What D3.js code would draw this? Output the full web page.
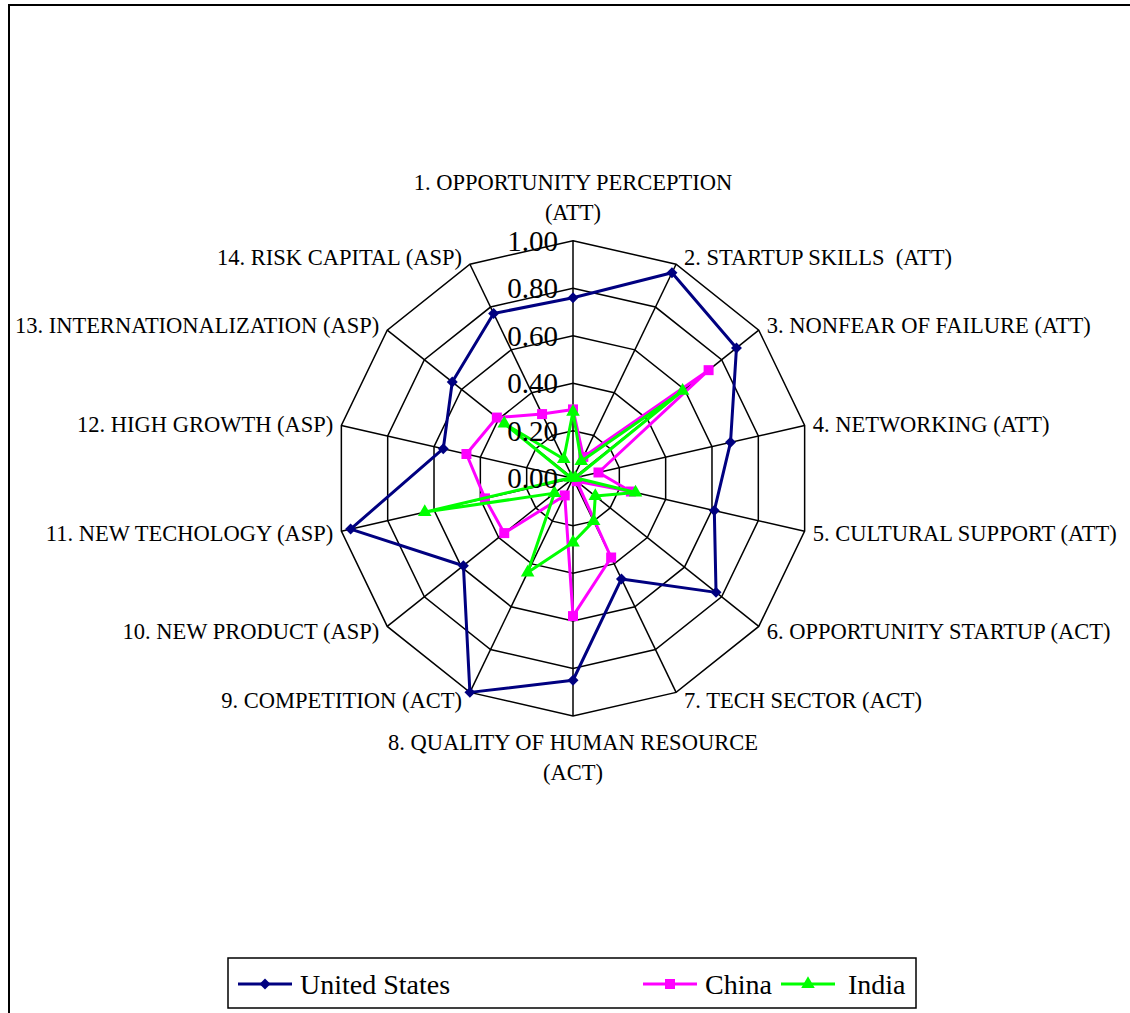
<!DOCTYPE html>
<html>
<head>
<meta charset="utf-8">
<script src="https://cdn.jsdelivr.net/npm/d3@7"></script>
<style>
  html, body { margin: 0; padding: 0; background: #fff; }
  svg text { white-space: pre; }
</style>
</head>
<body>
<svg id="chart" width="1130" height="1013"></svg>
<script>
/* radar chart: entrepreneurship indicators */

const axisLabels = [
	["1. OPPORTUNITY PERCEPTION", "(ATT)"],
	["2. STARTUP SKILLS  (ATT)"],
	["3. NONFEAR OF FAILURE (ATT)"],
	["4. NETWORKING (ATT)"],
	["5. CULTURAL SUPPORT (ATT)"],
	["6. OPPORTUNITY STARTUP (ACT)"],
	["7. TECH SECTOR (ACT)"],
	["8. QUALITY OF HUMAN RESOURCE", "(ACT)"],
	["9. COMPETITION (ACT)"],
	["10. NEW PRODUCT (ASP)"],
	["11. NEW TECHOLOGY (ASP)"],
	["12. HIGH GROWTH (ASP)"],
	["13. INTERNATIONALIZATION (ASP)"],
	["14. RISK CAPITAL (ASP)"]
];
const seriesNames = ["United States", "China", "India"];
const unitedStates = [0.76, 0.96, 0.88, 0.68, 0.61, 0.77, 0.47, 0.85, 1.00, 0.59, 0.96, 0.56, 0.65, 0.77];
const china = [0.29, 0.10, 0.73, 0.11, 0.25, 0.02, 0.37, 0.58, 0.08, 0.37, 0.38, 0.46, 0.41, 0.30];
const india = [0.28, 0.08, 0.59, 0.01, 0.27, 0.12, 0.20, 0.27, 0.44, 0.10, 0.64, 0.01, 0.37, 0.09];
const ticks = [0, 0.2, 0.4, 0.6, 0.8, 1.0];

const font = "'Liberation Serif', 'Times New Roman', Times, serif";
const colors = ["#000080", "#ff00ff", "#00ff00"];
const symbols = [d3.symbolSquare, d3.symbolSquare, d3.symbolTriangle];
const symbolSizes = [60, 100, 80];

const svg = d3.select("#chart");
const cx = 573, cy = 478.3;
const r = d3.scaleLinear().domain([0, 1]).range([0, 237.6]);
const n = axisLabels.length;
const angle = i => i * 2 * Math.PI / n;
const px = (i, v) => cx + r(v) * Math.sin(angle(i));
const py = (i, v) => cy - r(v) * Math.cos(angle(i));

// outer frame
svg.append("path")
	.attr("d", "M9,1013 V5 H1130")
	.attr("fill", "none")
	.attr("stroke", "#000")
	.attr("stroke-width", 2);

const g = svg.append("g");

// grid rings
const ring = d3.line().x(d => px(d.i, d.v)).y(d => py(d.i, d.v)).curve(d3.curveLinearClosed);
ticks.filter(t => t > 0).forEach(t => {
	g.append("path")
		.attr("d", ring(d3.range(n).map(i => ({i, v: t}))))
		.attr("fill", "none")
		.attr("stroke", "#000")
		.attr("stroke-width", 1.5);
});
// spokes
g.selectAll("line.spoke").data(d3.range(n)).join("line")
	.attr("class", "spoke")
	.attr("x1", cx).attr("y1", cy)
	.attr("x2", i => px(i, 1)).attr("y2", i => py(i, 1))
	.attr("stroke", "#000")
	.attr("stroke-width", 1.5);

// series
[unitedStates, china, india].forEach((vals, s) => {
	const pts = vals.map((v, i) => ({i, v}));
	g.append("path")
		.attr("d", ring(pts))
		.attr("fill", "none")
		.attr("stroke", colors[s])
		.attr("stroke-width", 3)
		.attr("stroke-linejoin", "round");
	g.selectAll(null).data(pts).join("path")
		.attr("d", d3.symbol().type(symbols[s]).size(symbolSizes[s]))
		.attr("transform", d => `translate(${px(d.i, d.v)},${py(d.i, d.v)})` + (s === 0 ? " rotate(45)" : ""))
		.attr("fill", colors[s]);
});

// tick labels
g.selectAll("text.tick").data(ticks).join("text")
	.attr("class", "tick")
	.attr("x", cx - 15)
	.attr("y", t => cy - r(t))
	.attr("text-anchor", "end")
	.attr("dominant-baseline", "central")
	.attr("font-family", font)
	.attr("font-size", 29)
	.text(t => t.toFixed(2));

// axis labels
axisLabels.forEach((lines, i) => {
	const s = Math.sin(angle(i)), c = Math.cos(angle(i));
	let x = px(i, 1), y = py(i, 1), anchor = "middle";
	if (Math.abs(s) > 0.01) {
		anchor = s > 0 ? "start" : "end";
		x += s > 0 ? 8 : -8;
		y += -c * 8;
	}
	const lh = 30;
	let y0;
	if (c > 0.99) y0 = y - 29 - (lines.length - 1) * lh;
	else if (c < -0.99) y0 = y + 26;
	else y0 = y;
	const t = g.append("text")
		.attr("text-anchor", anchor)
		.attr("font-family", font)
		.attr("font-size", 22.5)
		.attr("dominant-baseline", "central");
	lines.forEach((ln, k) => {
		t.append("tspan").attr("x", x).attr("y", y0 + k * lh).text(ln);
	});
});

// legend
const lg = svg.append("g");
lg.append("rect")
	.attr("x", 228).attr("y", 958)
	.attr("width", 688).attr("height", 50)
	.attr("fill", "#fff")
	.attr("stroke", "#000")
	.attr("stroke-width", 1.5);
const legendX = [238, 643, 781];
seriesNames.forEach((name, s) => {
	const x0 = legendX[s], ly = 984;
	lg.append("line")
		.attr("x1", x0).attr("x2", x0 + 54)
		.attr("y1", ly).attr("y2", ly)
		.attr("stroke", colors[s])
		.attr("stroke-width", 3);
	lg.append("path")
		.attr("d", d3.symbol().type(symbols[s]).size(symbolSizes[s])())
		.attr("transform", `translate(${x0 + 27},${ly})` + (s === 0 ? " rotate(45)" : ""))
		.attr("fill", colors[s]);
	lg.append("text")
		.attr("x", x0 + 62 + (s === 2 ? 5 : 0))
		.attr("y", ly)
		.attr("dominant-baseline", "central")
		.attr("font-family", font)
		.attr("font-size", 28)
		.text(name);
});
</script>
</body>
</html>
